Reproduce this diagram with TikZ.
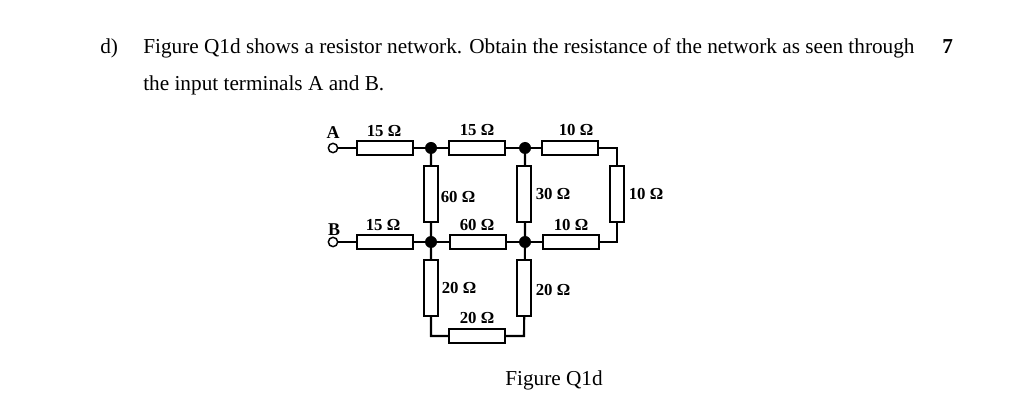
\documentclass[tikz,border=0pt]{standalone}
\usepackage{fontspec}
\setmainfont{Liberation Serif}
\tikzset{
 px/.style={x=0.75pt,y=-0.75pt},
 rh/.style={draw,line width=1.6pt,fill=white,minimum width=41.5pt,minimum height=11pt,inner sep=0pt},
 rv/.style={draw,line width=1.6pt,fill=white,minimum width=11pt,minimum height=41.5pt,inner sep=0pt},
 wire/.style={line width=1.6pt,line cap=rect},
 dot/.style={circle,fill=black,minimum size=9pt,inner sep=0pt},
 term/.style={circle,draw,line width=1.1pt,fill=white,minimum size=7pt,inner sep=0pt},
 corner/.style={inner sep=0pt,minimum size=0pt},
 txt/.style={font=\fontsize{15.95pt}{18pt}\selectfont,inner sep=0pt,anchor=base west},
 val/.style={font=\fontsize{12.6pt}{14pt}\selectfont\bfseries,inner sep=0pt,anchor=center},
 lett/.style={font=\fontsize{13.5pt}{15pt}\selectfont\bfseries,inner sep=0pt,anchor=center},
}
\begin{document}
\begin{tikzpicture}[px]
\useasboundingbox[fill=white] (0,0) rectangle (1035,402);
\node[txt] (d) at (100,54) {d)};
\node[txt] (l1) at (143,54) {Figure Q1d shows a resistor network. Obtain the resistance of the network as seen through};
\node[txt,font=\fontsize{15.95pt}{18pt}\selectfont\bfseries] (seven) at (942,54) {7};
\node[txt] (l2) at (143,91) {the input terminals A and B.};
\node[txt] (cap) at (505,386) {Figure Q1d};
% junctions and terminals
\node[term] (A) at (333,148) {};
\node[term] (B) at (333,242) {};
\node[dot] (j1) at (431,148) {};
\node[dot] (j2) at (525,148) {};
\node[dot] (j3) at (431,242) {};
\node[dot] (j4) at (525,242) {};
\node[corner] (c1) at (617,148) {};
\node[corner] (c2) at (617,242) {};
\node[corner] (c3) at (431,336) {};
\node[corner] (c4) at (524,336) {};
% wires
\draw[wire] (A) -- (j1) -- (j2) -- (c1) -- (c2) -- (j3) -- (B);
\draw[wire] (j1) -- (j3) -- (c3) -- (c4) -- (j4) -- (j2);
% resistors
\node[rh] (r1) at (385,148) {};
\node[rh] (r2) at (477,148) {};
\node[rh] (r3) at (570,148) {};
\node[rh] (r4) at (385,242) {};
\node[rh] (r5) at (478,242) {};
\node[rh] (r6) at (571,242) {};
\node[rh] (r7) at (477,336) {};
\node[rv] (r8) at (431,194) {};
\node[rv] (r9) at (524,194) {};
\node[rv] (r10) at (617,194) {};
\node[rv] (r11) at (431,288) {};
\node[rv] (r12) at (524,288) {};
% labels
\node[lett] (la) at (333,133) {A};
\node[lett] (lb) at (334,230) {B};
\node[val] (v1) at (384,131) {15 Ω};
\node[val] (v2) at (477,130) {15 Ω};
\node[val] (v3) at (576,130) {10 Ω};
\node[val] (v4) at (458,197) {60 Ω};
\node[val] (v5) at (553,194) {30 Ω};
\node[val] (v6) at (646,194) {10 Ω};
\node[val] (v7) at (383,225) {15 Ω};
\node[val] (v8) at (477,225) {60 Ω};
\node[val] (v9) at (571,225) {10 Ω};
\node[val] (v10) at (459,288) {20 Ω};
\node[val] (v11) at (553,290) {20 Ω};
\node[val] (v12) at (477,318) {20 Ω};
\end{tikzpicture}
\end{document}
